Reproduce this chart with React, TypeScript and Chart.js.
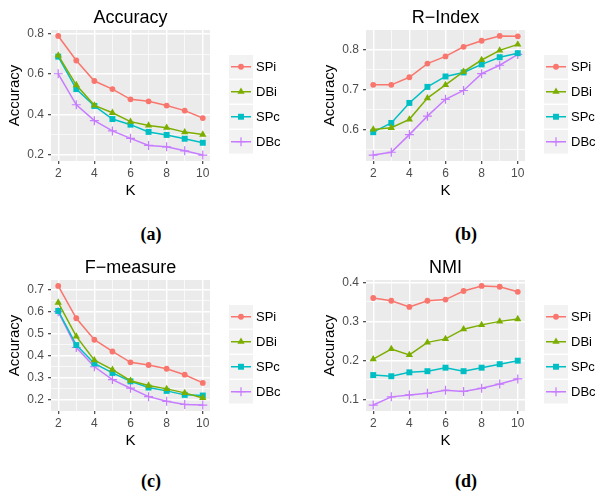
import React, { useEffect, useRef } from 'react';
import { Chart, registerables } from 'chart.js';
Chart.register(...registerables);

const FONT = "'Liberation Sans', Arial, sans-serif";

const K = [2, 3, 4, 5, 6, 7, 8, 9, 10];
const SERIES = ['SPi', 'DBi', 'SPc', 'DBc'];
const COLORS = ['#F8766D', '#7CAE00', '#00BFC4', '#C77CFF'];
const SHAPES = ['circle', 'triangle', 'rect', 'cross'];
const RADII = [2.9, 4.2, 4.2, 4.5];

// (a) Accuracy
const accSPi = [0.79, 0.668, 0.566, 0.526, 0.475, 0.465, 0.444, 0.419, 0.382];
const accDBi = [0.693, 0.546, 0.445, 0.408, 0.364, 0.345, 0.334, 0.312, 0.3];
const accSPc = [0.687, 0.526, 0.442, 0.377, 0.349, 0.313, 0.298, 0.279, 0.259];
const accDBc = [0.602, 0.448, 0.369, 0.318, 0.281, 0.246, 0.239, 0.219, 0.198];

// (b) R-Index
const riSPi = [0.712, 0.712, 0.731, 0.765, 0.783, 0.807, 0.822, 0.834, 0.833];
const riDBi = [0.601, 0.605, 0.626, 0.679, 0.712, 0.745, 0.774, 0.798, 0.813];
const riSPc = [0.594, 0.617, 0.667, 0.707, 0.733, 0.743, 0.763, 0.781, 0.791];
const riDBc = [0.537, 0.544, 0.588, 0.634, 0.676, 0.698, 0.74, 0.761, 0.788];

// (c) F-measure
const fmSPi = [0.715, 0.569, 0.472, 0.419, 0.37, 0.358, 0.341, 0.314, 0.277];
const fmDBi = [0.64, 0.487, 0.38, 0.337, 0.287, 0.265, 0.25, 0.232, 0.209];
const fmSPc = [0.602, 0.448, 0.365, 0.322, 0.284, 0.256, 0.241, 0.223, 0.22];
const fmDBc = [0.599, 0.437, 0.35, 0.292, 0.253, 0.215, 0.194, 0.18, 0.177];

// (d) NMI
const nmSPi = [0.36, 0.353, 0.337, 0.353, 0.356, 0.378, 0.391, 0.389, 0.376];
const nmDBi = [0.203, 0.229, 0.214, 0.246, 0.255, 0.28, 0.291, 0.3, 0.306];
const nmSPc = [0.162, 0.159, 0.169, 0.172, 0.181, 0.172, 0.181, 0.19, 0.199];
const nmDBc = [0.085, 0.106, 0.111, 0.115, 0.123, 0.12, 0.128, 0.139, 0.152];

const Y_TITLE = 'Accuracy';
const X_TITLE = 'K';

function drawMark(ctx: CanvasRenderingContext2D, shape: string, x: number, y: number, r: number, color: string) {
  ctx.save();
  ctx.fillStyle = color;
  ctx.strokeStyle = color;
  ctx.beginPath();
  if (shape === 'circle') {
    ctx.arc(x, y, r, 0, Math.PI * 2);
    ctx.fill();
  } else if (shape === 'triangle') {
    for (let i = 0; i < 3; i++) {
      const a = (i * 2 * Math.PI) / 3;
      const px = x + Math.sin(a) * r;
      const py = y - Math.cos(a) * r;
      if (i === 0) ctx.moveTo(px, py);
      else ctx.lineTo(px, py);
    }
    ctx.closePath();
    ctx.fill();
  } else if (shape === 'rect') {
    const s = r / Math.SQRT2;
    ctx.fillRect(x - s, y - s, 2 * s, 2 * s);
  } else {
    ctx.lineWidth = 1.2;
    ctx.moveTo(x - r, y);
    ctx.lineTo(x + r, y);
    ctx.moveTo(x, y - r);
    ctx.lineTo(x, y + r);
    ctx.stroke();
  }
  ctx.restore();
}

const deco = {
  id: 'deco',
  beforeDraw(chart: any) {
    const { ctx, chartArea: a } = chart;
    ctx.save();
    ctx.fillStyle = '#EBEBEB';
    ctx.fillRect(a.left, a.top, a.right - a.left, a.bottom - a.top);
    ctx.restore();
  },
  afterDraw(chart: any, _args: any, opts: any) {
    const { ctx, chartArea: a } = chart;
    ctx.save();
    // title
    ctx.fillStyle = '#000';
    ctx.font = `18px ${FONT}`;
    ctx.textAlign = 'center';
    ctx.textBaseline = 'alphabetic';
    ctx.fillText(opts.title, (a.left + a.right) / 2, 23);
    // legend
    const bx = a.right + 19;
    const bw = 24;
    const bh = 23.5;
    const pitch = 25;
    const by0 = 55;
    SERIES.forEach((name, i) => {
      const y = by0 + i * pitch;
      ctx.fillStyle = '#F2F2F2';
      ctx.fillRect(bx, y, bw, bh);
      const cy = y + bh / 2;
      ctx.strokeStyle = COLORS[i];
      ctx.lineWidth = 1.5;
      ctx.beginPath();
      ctx.moveTo(bx + 2, cy);
      ctx.lineTo(bx + bw - 2, cy);
      ctx.stroke();
      drawMark(ctx, SHAPES[i], bx + bw / 2, cy, RADII[i], COLORS[i]);
      ctx.fillStyle = '#000';
      ctx.font = `13px ${FONT}`;
      ctx.textAlign = 'left';
      ctx.textBaseline = 'middle';
      ctx.fillText(name, bx + bw + 3, cy + 0.5);
    });
    ctx.restore();
  },
};

type PanelProps = { title: string; series: number[][]; major: number };

function Panel({ title, series, major }: PanelProps) {
  const ref = useRef<HTMLCanvasElement>(null);
  useEffect(() => {
    const all = series.flat();
    const dmin = Math.min(...all);
    const dmax = Math.max(...all);
    const ymin = dmin - 0.05 * (dmax - dmin);
    const ymax = dmax + 0.05 * (dmax - dmin);
    const kmin = Math.min(...K);
    const kmax = Math.max(...K);
    const xmin = kmin - 0.05 * (kmax - kmin);
    const xmax = kmax + 0.05 * (kmax - kmin);
    const half = major / 2;
    const yTicks: number[] = [];
    for (let v = Math.ceil(ymin / half - 1e-9) * half; v <= ymax + 1e-9; v += half) {
      yTicks.push(+v.toFixed(4));
    }
    const isMajorY = (v: number) => Math.abs(v / major - Math.round(v / major)) < 1e-6;
    const isMajorX = (v: number) => Math.round(v) % 2 === 0;

    const chart = new Chart(ref.current as HTMLCanvasElement, {
      type: 'line',
      data: {
        datasets: series.map((vals, i) => ({
          label: SERIES[i],
          data: K.map((k, j) => ({ x: k, y: vals[j] })),
          borderColor: COLORS[i],
          backgroundColor: COLORS[i],
          borderWidth: 1.5,
          pointStyle: SHAPES[i] as any,
          pointRadius: RADII[i],
          pointBorderWidth: SHAPES[i] === 'cross' ? 1.2 : 0,
          pointBackgroundColor: COLORS[i],
          pointBorderColor: COLORS[i],
          tension: 0,
        })),
      },
      options: {
        animation: false,
        responsive: false,
        devicePixelRatio: 1,
        layout: { padding: { top: 30, right: 72, left: 0, bottom: 0 } },
        plugins: {
          legend: { display: false },
          tooltip: { enabled: false },
          deco: { title },
        } as any,
        scales: {
          x: {
            type: 'linear',
            min: xmin,
            max: xmax,
            afterBuildTicks: (s: any) => {
              s.ticks = K.map((v) => ({ value: v }));
            },
            afterFit: (s: any) => {
              s.height = 39;
            },
            ticks: {
              autoSkip: false,
              maxRotation: 0,
              padding: 2,
              color: '#4D4D4D',
              font: { family: FONT, size: 12 },
              callback: (v: any) => (isMajorX(Number(v)) ? String(v) : ''),
            },
            grid: {
              color: '#FFFFFF',
              lineWidth: (c: any) => (c.tick && isMajorX(c.tick.value) ? 1.4 : 0.7),
              drawTicks: true,
              tickLength: 3,
              tickWidth: 1.1,
              tickColor: (c: any) => (c.tick && isMajorX(c.tick.value) ? '#333333' : 'rgba(0,0,0,0)'),
            },
            border: { display: false },
            title: {
              display: true,
              text: X_TITLE,
              color: '#000',
              font: { family: FONT, size: 15 },
              padding: { top: 0, bottom: 0 },
            },
          },
          y: {
            type: 'linear',
            min: ymin,
            max: ymax,
            afterBuildTicks: (s: any) => {
              s.ticks = yTicks.map((v) => ({ value: v }));
            },
            afterFit: (s: any) => {
              s.width = 51;
            },
            ticks: {
              autoSkip: false,
              padding: 4,
              color: '#4D4D4D',
              font: { family: FONT, size: 12 },
              callback: (v: any) => (isMajorY(Number(v)) ? Number(v).toFixed(1) : ''),
            },
            grid: {
              color: '#FFFFFF',
              lineWidth: (c: any) => (c.tick && isMajorY(c.tick.value) ? 1.4 : 0.7),
              drawTicks: true,
              tickLength: 3,
              tickWidth: 1.1,
              tickColor: (c: any) => (c.tick && isMajorY(c.tick.value) ? '#333333' : 'rgba(0,0,0,0)'),
            },
            border: { display: false },
            title: {
              display: true,
              text: Y_TITLE,
              color: '#000',
              font: { family: FONT, size: 15 },
              padding: { top: 6, bottom: 0 },
            },
          },
        },
      } as any,
      plugins: [deco],
    });
    return () => chart.destroy();
  }, [title, series, major]);
  return <canvas ref={ref} width={282} height={200} style={{ display: 'block', width: 282, height: 200 }} />;
}

const PANELS = [
  { title: 'Accuracy', series: [accSPi, accDBi, accSPc, accDBc], major: 0.2, left: 0, top: 0, cap: '(a)' },
  { title: 'R\u2212Index', series: [riSPi, riDBi, riSPc, riDBc], major: 0.1, left: 315, top: 0, cap: '(b)' },
  { title: 'F\u2212measure', series: [fmSPi, fmDBi, fmSPc, fmDBc], major: 0.1, left: 0, top: 250, cap: '(c)' },
  { title: 'NMI', series: [nmSPi, nmDBi, nmSPc, nmDBc], major: 0.1, left: 315, top: 250, cap: '(d)' },
];

export default function App() {
  return (
    <div style={{ position: 'absolute', left: 0, top: 0, width: 597, height: 502, background: '#fff', overflow: 'hidden' }}>
      {PANELS.map((p) => (
        <React.Fragment key={p.cap}>
          <div style={{ position: 'absolute', left: p.left, top: p.top }}>
            <Panel title={p.title} series={p.series} major={p.major} />
          </div>
          <div
            style={{
              position: 'absolute',
              left: p.left + 151 - 40,
              top: p.top + 234 - 11 - (p.top ? 3 : 0),
              width: 80,
              textAlign: 'center',
              font: "bold 18px 'Liberation Serif', serif",
              lineHeight: '22px',
              color: '#000',
            }}
          >
            {p.cap}
          </div>
        </React.Fragment>
      ))}
    </div>
  );
}
